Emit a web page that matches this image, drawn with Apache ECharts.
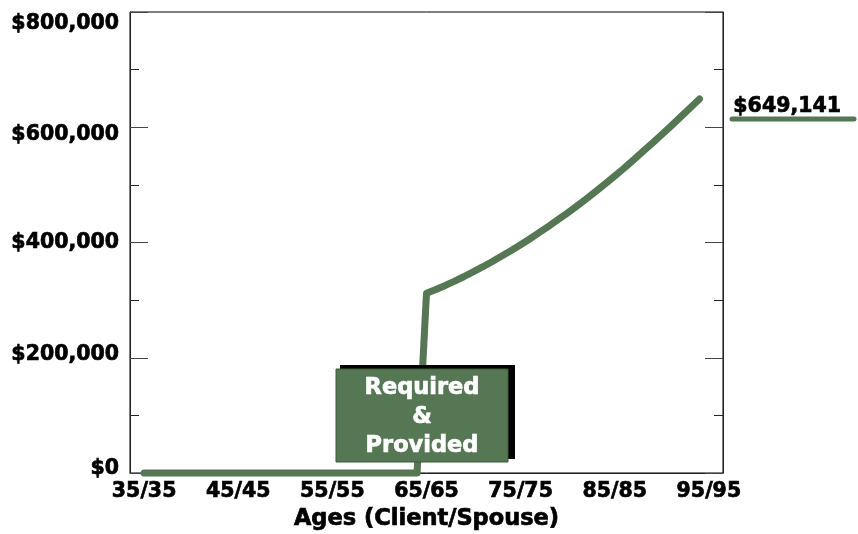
<!DOCTYPE html>
<html>
<head>
<meta charset="utf-8">
<script src="https://cdn.jsdelivr.net/npm/echarts@6/dist/echarts.min.js"></script>
<style>
  html, body { margin: 0; padding: 0; background: #fff; }
  #chart { width: 858px; height: 534px; }
</style>
</head>
<body>
<div id="chart"></div>
<script>
// ages on the x axis (one band per year, labels every 10)
const ages = [34, 35, 36, 37, 38, 39, 40, 41, 42, 43, 44, 45, 46, 47, 48, 49, 50,
  51, 52, 53, 54, 55, 56, 57, 58, 59, 60, 61, 62, 63, 64, 65, 66, 67, 68, 69, 70,
  71, 72, 73, 74, 75, 76, 77, 78, 79, 80, 81, 82, 83, 84, 85, 86, 87, 88, 89, 90,
  91, 92, 93, 94, 95, 96]

// required & provided amount per age
const balance = [null,
  0, 0, 0, 0, 0, 0, 0, 0, 0, 0, 0, 0, 0, 0, 0,
  0, 0, 0, 0, 0, 0, 0, 0, 0, 0, 0, 0, 0, 0, 0,
  312000, 318500, 325500, 333000, 341000, 349500, 358000, 367000, 376500, 386000,
  396000, 406500, 417500, 428500, 440000, 451500, 463500, 476000, 489000, 502000,
  515500, 529000, 543500, 558000, 572500, 587500, 602500, 618000, 633500, 649141,
  null, null]

const yTickValues = [0, 200000, 400000, 600000, 800000]
const yTickLabels = ['$0', '$200,000', '$400,000', '$600,000', '$800,000']
const yLabelStyle = ['p0', 'p200', 'p400', 'p600', 'p800']

const green = '#567754'
const font = 'DejaVu Sans'

const lastValue = balance.filter(v => v != null).pop()
const fmtMoney = v => '$' + v.toLocaleString('en-US')

const showEvery10 = (idx, val) => (Number(val) - 35) % 10 === 0

// heavy black text like the original
const heavy = {
  fontFamily: font, fontWeight: 'bold', color: '#000',
  textBorderColor: '#000', textBorderWidth: 0.7
}

// nudge the value labels a little, like the original
const labelRich = {
  p0: { padding: [0, 0, 9, 0] },
  p200: { padding: [0, 0, 6, 0] },
  p400: {},
  p600: { padding: [15, 0, 0, 0] },
  p800: { padding: [24, 0, 0, 0] }
}

const yAxisBase = {
  type: 'value',
  min: 0,
  max: 800000,
  interval: 200000,
  splitLine: { show: false },
  axisLine: { show: true, lineStyle: { color: '#222', width: 1 } },
  axisTick: { show: true, inside: true, length: 18, lineStyle: { color: '#444' } },
  minorTick: { show: true, splitNumber: 2, length: 9, lineStyle: { color: '#222' } }
}

const chart = echarts.init(document.getElementById('chart'))

chart.setOption({
  animation: false,
  backgroundColor: '#fff',
  grid: {
    left: 130, top: 12, right: 135, bottom: 61,
    outerBoundsMode: 'none',
    show: true, borderColor: '#000', borderWidth: 1
  },
  xAxis: {
    type: 'category',
    data: ages,
    boundaryGap: true,
    name: 'Ages (Client/Spouse)',
    nameLocation: 'middle',
    nameGap: 35,
    nameTextStyle: Object.assign({ fontSize: 22.5 }, heavy),
    axisLine: { lineStyle: { color: '#222', width: 1 } },
    axisTick: {
      inside: true, length: 14, alignWithLabel: true,
      interval: showEvery10, lineStyle: { color: '#333' }
    },
    axisLabel: Object.assign({
      interval: showEvery10,
      margin: 8,
      fontSize: 20.5,
      formatter: v => v + '/' + v
    }, heavy)
  },
  yAxis: [
    Object.assign({}, yAxisBase, {
      position: 'left',
      axisLabel: Object.assign({
        margin: 11,
        fontSize: 20.5,
        formatter: v => {
          const i = yTickValues.indexOf(v)
          return '{' + yLabelStyle[i] + '|' + yTickLabels[i] + '}'
        },
        rich: labelRich
      }, heavy)
    }),
    Object.assign({}, yAxisBase, {
      position: 'right',
      axisLabel: { show: false }
    })
  ],
  series: [
    {
      type: 'line',
      data: balance,
      symbol: 'none',
      clip: false,
      z: 2,
      lineStyle: { color: green, width: 7, cap: 'round', join: 'round' }
    }
  ],
  graphic: [
    // end value tag at right
    {
      type: 'text', left: 733, top: 96, z: 10,
      style: {
        text: fmtMoney(lastValue),
        font: 'bold 20.5px "' + font + '"', fill: '#000',
        stroke: '#000', lineWidth: 0.7
      }
    },
    {
      type: 'line', z: 10,
      shape: { x1: 732, y1: 119, x2: 854, y2: 119 },
      style: { stroke: green, lineWidth: 5, lineCap: 'round' }
    },
    // "Required & Provided" box with black extrusion
    {
      type: 'rect', z: 100,
      shape: { x: 340, y: 365, width: 175, height: 94 },
      style: { fill: '#000' }
    },
    {
      type: 'rect', z: 101,
      shape: { x: 336, y: 369, width: 172, height: 93 },
      style: { fill: green, stroke: '#3e5a3d', lineWidth: 1 }
    },
    {
      type: 'text', x: 422, y: 417, z: 102,
      style: {
        text: 'Required\n&\nProvided',
        align: 'center', verticalAlign: 'middle',
        lineHeight: 29,
        font: 'bold 22.5px "' + font + '"', fill: '#fff',
        stroke: '#fff', lineWidth: 0.7
      }
    }
  ]
})
</script>
</body>
</html>
